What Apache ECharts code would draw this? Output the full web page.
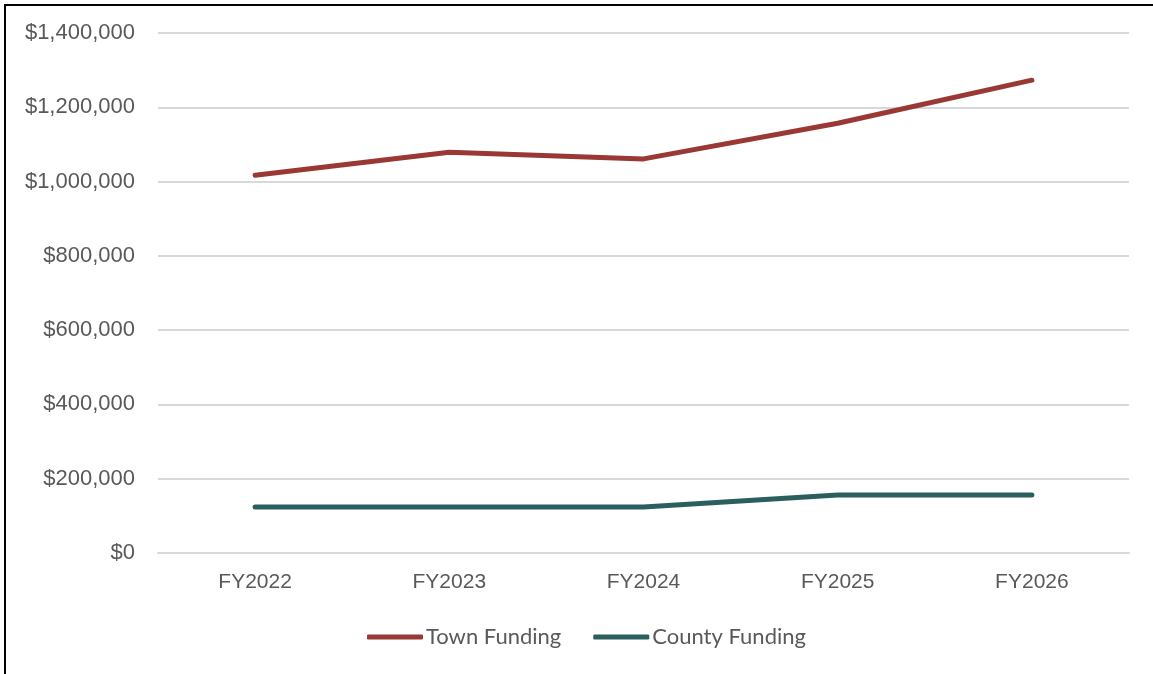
<!DOCTYPE html>
<html>
<head>
<meta charset="utf-8">
<script src="https://cdn.jsdelivr.net/npm/echarts@6/dist/echarts.min.js"></script>
<style>
  html, body { margin: 0; padding: 0; background: #fff; }
  #chart { width: 1153px; height: 674px; }
</style>
</head>
<body>
<div id="chart"></div>
<script>
// Fiscal years on the category axis
const years = ['FY2022', 'FY2023', 'FY2024', 'FY2025', 'FY2026'];
// Funding by source, in dollars
const townFunding = [1017000, 1079000, 1061000, 1157000, 1273000];
const countyFunding = [124000, 124000, 124000, 156000, 156000];
// Value axis range
const yMin = 0;
const yMax = 1400000;
const yStep = 200000;

const textColor = '#595959';
const gridColor = '#d9d9d9';

const chart = echarts.init(document.getElementById('chart'), null, { renderer: 'canvas' });

const money = v => '$' + Math.round(v).toString().replace(/\B(?=(\d{3})+(?!\d))/g, ',');

chart.setOption({
  animation: false,
  backgroundColor: '#fff',
  grid: { left: 158, right: 24, top: 33, bottom: 121, containLabel: false },
  xAxis: {
    type: 'category',
    data: years,
    boundaryGap: true,
    axisLine: { show: true, lineStyle: { color: gridColor, width: 2 } },
    axisTick: { show: false },
    axisLabel: { color: textColor, fontSize: 21, fontFamily: 'Liberation Sans', margin: 19 }
  },
  yAxis: {
    type: 'value',
    min: yMin,
    max: yMax,
    interval: yStep,
    axisLine: { show: false },
    axisTick: { show: false },
    splitLine: { lineStyle: { color: gridColor, width: 2 } },
    axisLabel: { color: textColor, fontSize: 22, fontFamily: 'Liberation Sans', margin: 23, formatter: money }
  },
  legend: {
    top: 621,
    left: 362,
    icon: 'roundRect',
    itemWidth: 56,
    itemHeight: 5,
    itemGap: 32,
    textStyle: { color: textColor, fontSize: 22, fontFamily: 'Lato', padding: [0, 0, 0, -2] },
    data: ['Town Funding', 'County Funding']
  },
  series: [
    {
      name: 'Town Funding',
      type: 'line',
      data: townFunding,
      showSymbol: false,
      symbol: 'none',
      color: '#9a3835',
      lineStyle: { width: 5, color: '#9a3835', cap: 'round', join: 'round' }
    },
    {
      name: 'County Funding',
      type: 'line',
      data: countyFunding,
      showSymbol: false,
      symbol: 'none',
      color: '#2a5f5e',
      lineStyle: { width: 5, color: '#2a5f5e', cap: 'round', join: 'round' }
    }
  ],
  graphic: [
    {
      type: 'polyline',
      silent: true,
      shape: { points: [[5, 674], [5, 5], [1153, 5]] },
      style: { stroke: '#000', lineWidth: 2, fill: null }
    }
  ]
});
</script>
</body>
</html>
